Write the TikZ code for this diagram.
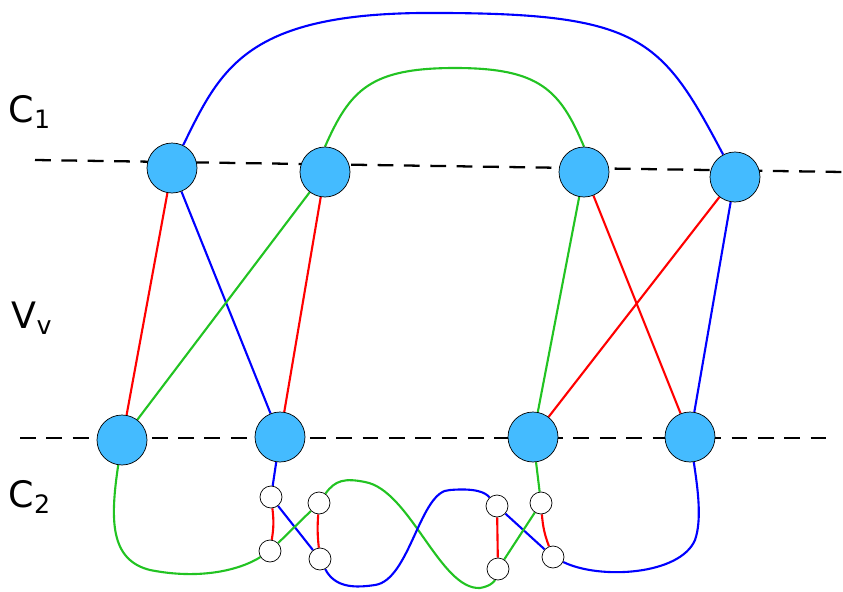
\documentclass[tikz,border=0pt]{standalone}
\usepackage{fontspec}
\setmainfont{DejaVu Sans}
\usetikzlibrary{backgrounds}
\definecolor{vfill}{HTML}{44BBFF}
\definecolor{egreen}{HTML}{22C322}
\tikzset{
  big/.style={circle,draw=black,fill=vfill,minimum size=50*0.02cm,inner sep=0pt},
  small/.style={circle,draw=black,fill=white,minimum size=22*0.02cm,inner sep=0pt},
  edge/.style={line width=1.2pt},
  level/.style={line width=1.3pt,dash pattern=on 9pt off 6pt},
}
\begin{document}
\begin{tikzpicture}[x=0.02cm,y=-0.02cm]
\useasboundingbox (0,0) rectangle (843,592);
\draw[level] (35,160) -- (843,172);
\draw[level] (20,438) -- (835,438);
\node[font=\huge] (c1) at (30,112) {C\textsubscript{1}};
\node[font=\huge] (vv) at (32,318) {V\textsubscript{v}};
\node[font=\huge] (c2) at (30,497) {C\textsubscript{2}};
% big vertices
\node[big] (t1) at (172,168) {};
\node[big] (t2) at (325,172) {};
\node[big] (t3) at (584,172) {};
\node[big] (t4) at (735,177) {};
\node[big] (b1) at (122,440) {};
\node[big] (b2) at (280,437) {};
\node[big] (b3) at (533,437) {};
\node[big] (b4) at (690,437) {};
% small vertices
\node[small] (s1) at (271,497) {};
\node[small] (s2) at (270,551) {};
\node[small] (s3) at (319,503) {};
\node[small] (s4) at (320,559) {};
\node[small] (s5) at (497,506) {};
\node[small] (s6) at (498,569) {};
\node[small] (s7) at (541,503) {};
\node[small] (s8) at (553,557) {};
% edges
\begin{scope}[on background layer]
\draw[edge,blue] (t1) .. controls (220,70) and (245,15) .. (420,13) .. controls (640,12) and (660,35) .. (t4);
\draw[edge,egreen] (t2.north) .. controls (350,90) and (370,68) .. (455,68) .. controls (540,68) and (560,90) .. (t3.north);
\draw[edge,red] (t1) -- (b1);
\draw[edge,blue] (t1) -- (b2);
\draw[edge,egreen] (t2) -- (b1);
\draw[edge,red] (t2) -- (b2);
\draw[edge,egreen] (t3) -- (b3);
\draw[edge,red] (t3) -- (b4);
\draw[edge,red] (t4) -- (b3);
\draw[edge,blue] (t4) -- (b4);
\draw[edge,egreen] (b1) .. controls (110,520) and (110,560) .. (150,570) .. controls (200,580) and (240,570) .. (s2);
\draw[edge,blue] (b2) -- (s1);
\draw[edge,red] (s1) to[bend left=8] (s2);
\draw[edge,blue] (s1) -- (s4);
\draw[edge,egreen] (s2) -- (s3);
\draw[edge,red] (s3) to[bend right=5] (s4);
\draw[edge,egreen] (s3) .. controls (335,480) and (345,478) .. (365,482) .. controls (410,490) and (440,590) .. (480,588) .. controls (492,586) and (495,580) .. (s6);
\draw[edge,blue] (s4) .. controls (335,588) and (355,588) .. (375,585) .. controls (410,580) and (420,490) .. (450,490) .. controls (475,488) and (485,492) .. (s5);
\draw[edge,red] (s5) -- (s6);
\draw[edge,blue] (s5) -- (s8);
\draw[edge,egreen] (s6) -- (s7);
\draw[edge,red] (s7) to[bend right=8] (s8);
\draw[edge,egreen] (s7) -- (b3);
\draw[edge,blue] (s8) .. controls (600,580) and (680,575) .. (695,540) .. controls (702,520) and (698,490) .. (b4);
\end{scope}
\end{tikzpicture}
\end{document}
